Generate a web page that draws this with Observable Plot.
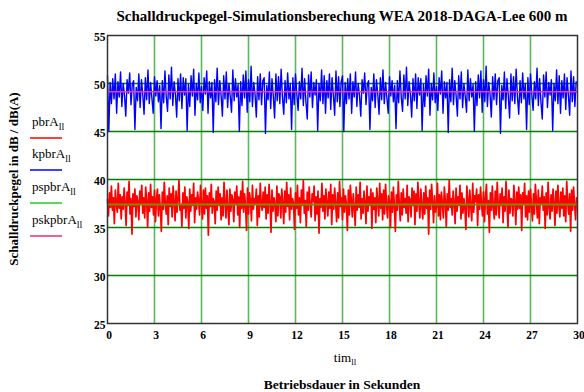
<!DOCTYPE html>
<html><head><meta charset="utf-8">
<script src="https://cdn.jsdelivr.net/npm/d3@7"></script>
<script src="https://cdn.jsdelivr.net/npm/@observablehq/plot@0.6"></script>
<style>body{margin:0;background:#fff} svg{display:block}</style>
</head><body><div id="chart"></div>
<script>
const titleText = "Schalldruckpegel-Simulationsberechung WEA 2018-DAGA-Lee 600 m";
const yLabel = "Schalldruckpegel in dB / dB(A)";
const xLabel = "tim";
const xCaption = "Betriebsdauer in Sekunden";
const xTicks = [0, 3, 6, 9, 12, 15, 18, 21, 24, 27, 30];
const yTicks = [25, 30, 35, 40, 45, 50, 55];
const xGrid = [3, 6, 9, 12, 15, 18, 21, 24, 27];
const yGrid = [30, 35, 40, 45, 50];
const dtK = 1 / 12;
const dtP = 1 / 16;

// kpbrA (blue), sampled every 1/12 s
const kpbrA = [
50.8,45.0,50.1,47.9,50.5,48.4,51.0,46.9,50.2,48.6,51.2,47.6,50.0,48.8,46.6,50.4,49.0,51.1,47.8,49.9,
50.3,45.2,49.6,48.2,51.0,47.5,50.4,48.9,46.8,50.6,48.3,51.4,47.9,50.1,48.5,46.9,50.7,48.7,50.3,48.1,
49.8,45.3,50.3,48.0,51.3,48.6,47.1,50.9,48.4,51.7,47.7,50.2,48.9,46.5,50.5,48.2,51.0,47.4,50.6,48.8,
50.5,45.1,49.9,47.6,50.8,48.7,51.5,46.7,50.0,48.3,51.1,48.0,49.7,47.2,50.6,48.9,51.3,46.9,50.2,48.5,
50.1,44.9,50.4,48.1,51.6,47.8,50.3,48.8,46.6,50.8,48.4,51.2,47.5,50.0,48.7,47.0,51.4,48.2,50.5,48.6,
49.9,45.0,50.2,47.7,50.9,48.5,51.3,47.0,50.4,48.1,51.8,47.6,50.1,48.9,46.5,50.7,48.3,51.0,47.8,50.3,
50.6,44.8,49.8,48.3,51.2,47.4,50.5,48.7,46.4,51.0,48.2,50.7,47.9,51.5,48.6,46.8,50.3,48.0,51.1,48.4,
50.0,45.2,50.6,47.8,51.0,48.9,47.2,50.2,48.4,51.6,47.7,50.5,48.1,46.3,50.9,48.6,51.2,47.5,50.1,48.8,
50.4,45.1,50.0,48.2,51.4,47.9,50.8,46.9,50.3,48.5,51.0,47.3,50.6,48.8,46.7,51.3,48.1,50.7,47.6,50.2,
50.8,45.0,50.1,47.9,50.5,48.4,51.0,46.9,50.2,48.6,51.2,47.6,50.0,48.8,46.6,50.4,49.0,51.1,47.8,49.9,
50.3,45.2,49.6,48.2,51.0,47.5,50.4,48.9,46.8,50.6,48.3,51.4,47.9,50.1,48.5,46.9,50.7,48.7,50.3,48.1,
49.8,45.3,50.3,48.0,51.3,48.6,47.1,50.9,48.4,51.7,47.7,50.2,48.9,46.5,50.5,48.2,51.0,47.4,50.6,48.8,
50.5,45.1,49.9,47.6,50.8,48.7,51.5,46.7,50.0,48.3,51.1,48.0,49.7,47.2,50.6,48.9,51.3,46.9,50.2,48.5,
50.1,44.9,50.4,48.1,51.6,47.8,50.3,48.8,46.6,50.8,48.4,51.2,47.5,50.0,48.7,47.0,51.4,48.2,50.5,48.6,
49.9,45.0,50.2,47.7,50.9,48.5,51.3,47.0,50.4,48.1,51.8,47.6,50.1,48.9,46.5,50.7,48.3,51.0,47.8,50.3,
50.6,44.8,49.8,48.3,51.2,47.4,50.5,48.7,46.4,51.0,48.2,50.7,47.9,51.5,48.6,46.8,50.3,48.0,51.1,48.4,
50.0,45.2,50.6,47.8,51.0,48.9,47.2,50.2,48.4,51.6,47.7,50.5,48.1,46.3,50.9,48.6,51.2,47.5,50.1,48.8,
50.4,45.1,50.0,48.2,51.4,47.9,50.8,46.9,50.3,48.5,51.0,47.3,50.6,48.8,46.7,51.3,48.1,50.7,47.6,50.2
];

// pbrA (red), sampled every 1/16 s
const pbrA = [
37.9,36.2,38.6,37.1,39.3,36.8,38.1,35.4,38.9,37.5,36.6,39.6,37.0,38.4,35.9,38.2,
36.9,39.1,37.6,35.2,38.7,37.3,39.8,36.4,38.0,34.3,38.5,37.2,39.0,36.1,38.3,37.7,
35.8,38.8,37.4,39.4,36.5,38.1,36.0,39.2,37.8,35.0,38.6,36.7,39.5,37.1,38.2,36.3,
38.9,35.6,37.9,39.0,36.2,38.4,37.0,34.6,38.7,36.9,39.7,37.5,36.4,38.3,35.3,39.1,
37.2,38.5,36.1,39.3,37.7,35.7,38.8,36.6,38.0,39.9,36.8,37.4,35.1,38.6,37.0,39.2,
36.0,38.2,37.6,34.9,39.0,36.7,38.4,37.3,39.6,35.5,38.1,36.9,38.7,37.8,36.3,39.4,
37.5,35.9,38.9,36.4,39.1,37.0,38.3,34.2,38.6,37.2,39.5,36.5,38.0,37.7,35.4,38.8,
36.8,39.2,37.3,38.5,35.8,38.1,36.2,39.7,37.6,36.0,38.9,37.1,35.3,39.0,36.7,38.4,
37.9,35.6,38.7,37.4,39.3,36.3,38.2,35.0,38.8,37.0,39.8,36.6,38.5,37.2,34.7,39.1,
36.4,38.6,37.8,35.7,39.4,36.9,38.0,37.5,39.0,35.2,38.3,36.1,39.6,37.3,36.8,38.7,
37.1,39.2,35.9,38.4,36.5,39.5,37.7,34.5,38.9,36.7,38.1,37.4,35.6,39.3,36.2,38.5,
38.2,36.0,39.0,37.6,35.4,38.8,36.6,39.7,37.2,38.4,35.8,39.1,36.9,38.0,37.5,34.8,
38.6,37.0,39.4,36.3,38.1,35.5,38.9,37.3,39.9,36.5,37.8,35.1,38.7,36.8,39.2,37.4,
36.1,38.5,37.7,39.3,35.7,38.2,36.4,38.8,34.4,38.0,37.1,39.6,36.7,38.3,35.9,39.0,
37.6,36.2,38.7,37.0,39.5,35.3,38.4,36.9,39.1,37.5,35.6,38.6,36.0,39.8,37.2,38.1,
35.8,39.0,36.6,38.3,37.4,34.7,38.9,36.3,39.4,37.8,36.1,38.5,37.0,35.2,39.2,36.8,
38.4,37.1,39.7,35.9,38.0,36.5,38.8,37.6,35.4,39.3,36.7,38.2,37.3,39.0,34.9,38.6,
36.9,38.1,35.5,39.1,37.7,36.2,39.6,37.0,38.5,35.8,38.9,36.4,39.5,37.4,36.0,38.3,
37.8,35.0,38.7,36.6,39.2,37.2,34.6,38.4,36.8,39.8,37.5,35.7,38.6,36.3,39.0,37.1,
38.0,36.5,39.4,35.6,38.2,37.9,36.1,39.1,37.3,38.8,35.3,38.5,36.7,39.7,37.6,36.0,
39.0,37.4,35.9,38.6,36.4,39.3,37.0,38.1,34.3,38.9,36.9,39.5,37.7,35.5,38.3,36.6,
37.2,39.6,36.2,38.4,35.8,38.7,37.5,36.0,39.2,37.8,35.1,38.5,36.8,39.9,37.1,38.0,
36.3,38.8,37.6,35.4,39.1,36.7,38.2,37.3,39.4,35.9,38.6,36.5,38.0,37.0,34.8,39.3,
37.9,36.1,38.9,37.2,35.7,39.6,36.6,38.3,37.7,39.0,35.2,38.4,36.9,39.2,37.4,36.2,
38.7,35.6,38.1,39.5,36.4,37.8,34.5,38.6,36.8,39.3,37.1,35.9,38.8,36.3,39.7,37.5,
36.0,38.5,37.3,39.1,35.5,38.2,36.7,39.8,37.6,35.0,38.9,36.5,38.0,37.9,36.2,39.4,
37.7,35.3,38.7,36.9,39.2,37.0,38.4,34.7,38.6,37.4,39.6,36.1,38.3,35.8,38.8,36.6,
39.0,37.2,35.7,38.5,36.4,39.5,37.8,36.0,38.9,35.4,38.1,37.5,39.3,36.8,38.2,34.9,
38.6,36.3,39.7,37.1,35.9,38.4,36.7,39.0,37.6,35.2,38.8,36.5,39.4,37.3,36.1,38.7,
37.0,39.1,36.2,38.3,35.6,39.8,37.7,36.4,38.5,34.6,38.9,36.8,39.2,37.4,35.8,38.1
];

const pspbrA = 37.4;   // green constant
const pskpbrA = 49.15; // pink constant

const legendLabels = ["pbrA", "kpbrA", "pspbrA", "pskpbrA"];
const legendColors = ["#ff0000", "#0000ff", "#22cc22", "#ee2a70"];
const lineColors = {pbrA: "#ff0000", kpbrA: "#0000ff", pspbrA: "#7a8c00", pskpbrA: "#ff3399"};

const kData = kpbrA.map((v, i) => ({t: i * dtK, v}));
const pData = pbrA.map((v, i) => ({t: i * dtP, v}));

const FONT = "Liberation Serif, Times New Roman, serif";

const chart = Plot.plot({
  width: 584, height: 392,
  marginLeft: 107, marginRight: 7, marginTop: 35, marginBottom: 69,
  style: {fontFamily: FONT, background: "#fff", color: "#000"},
  x: {domain: [0, 30]},
  y: {domain: [25, 55]},
  marks: [
    Plot.ruleX(xGrid, {stroke: "#5cb85c", strokeWidth: 1.6}),
    Plot.ruleY(yGrid, {stroke: "#008000", strokeWidth: 1.5}),
    Plot.line(pData, {x: "t", y: "v", stroke: lineColors.pbrA, strokeWidth: 1.7}),
    Plot.line(kData, {x: "t", y: "v", stroke: lineColors.kpbrA, strokeWidth: 1.4}),
    Plot.ruleY([pspbrA], {stroke: lineColors.pspbrA, strokeWidth: 2}),
    Plot.ruleY([pskpbrA], {stroke: lineColors.pskpbrA, strokeWidth: 1.5}),
    Plot.frame({stroke: "#333", strokeWidth: 1.5}),
    Plot.axisY({ticks: yTicks, tickSize: 0, tickPadding: 2, fontWeight: "bold", fontSize: 11.5, dy: 1.5, label: null}),
    Plot.axisX({ticks: xTicks, tickSize: 0, tickPadding: 7, fontWeight: "bold", fontSize: 11.5, dx: 1.5, label: null})
  ]
});

document.getElementById("chart").appendChild(chart);
const svg = d3.select(chart);

svg.append("text").attr("x", 342).attr("y", 21).attr("text-anchor", "middle")
  .attr("font-family", FONT).attr("font-weight", "bold").attr("font-size", 15).text(titleText);

svg.append("text").attr("transform", "translate(18,179) rotate(-90)").attr("text-anchor", "middle")
  .attr("font-family", FONT).attr("font-weight", "bold").attr("font-size", 13).text(yLabel);

const xl = svg.append("text").attr("x", 345).attr("y", 362).attr("text-anchor", "middle")
  .attr("font-family", FONT).attr("font-size", 13);
xl.append("tspan").text(xLabel);
xl.append("tspan").attr("font-size", 9).attr("dy", 3).text("ll");

svg.append("text").attr("x", 342).attr("y", 389).attr("text-anchor", "middle")
  .attr("font-family", FONT).attr("font-weight", "bold").attr("font-size", 13.5).text(xCaption);

const legBase = [126, 158, 191, 224];
legendLabels.forEach((lab, i) => {
  const t = svg.append("text").attr("x", 32).attr("y", legBase[i]).attr("text-anchor", "start")
    .attr("font-family", FONT).attr("font-size", 13);
  t.append("tspan").text(lab);
  t.append("tspan").attr("font-size", 10).attr("dy", 4).text("ll");
  svg.append("line").attr("x1", 30).attr("x2", 62)
    .attr("y1", legBase[i] + 12).attr("y2", legBase[i] + 12)
    .attr("stroke", legendColors[i]).attr("stroke-width", 1.5);
});
</script>
</body></html>
